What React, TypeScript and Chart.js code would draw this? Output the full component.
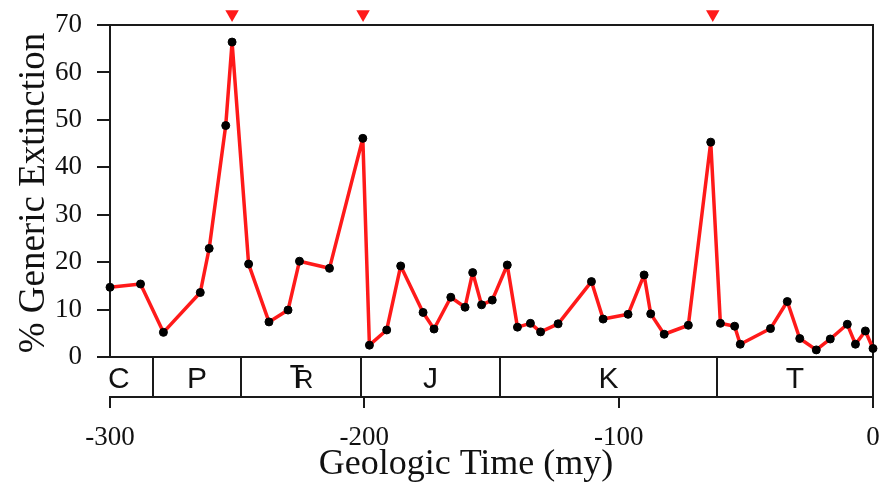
import React, { useEffect, useRef } from "react";
import { Chart, registerables } from "chart.js";

Chart.register(...registerables);

// ---- data ----
const ages = [
  -300, -288, -279, -264.5, -261, -254.5, -252, -245.5, -237.5, -230, -225.5, -213.7,
  -200.6, -198, -191.2, -185.7, -176.9, -172.6, -166, -160.4, -157.4, -153.9, -149.7,
  -143.8, -139.8, -134.7, -130.7, -123.8, -110.7, -106.1, -96.3, -90, -87.4, -82.1,
  -72.6, -63.8, -60, -54.4, -52.2, -40.3, -33.7, -28.8, -22.3, -16.8, -10.1, -6.9, -3, 0,
];
const extinction = [
  14.7, 15.4, 5.2, 13.6, 22.9, 48.8, 66.4, 19.6, 7.4, 9.9, 20.2, 18.7,
  46.1, 2.5, 5.7, 19.2, 9.4, 5.9, 12.6, 10.5, 17.8, 11.0, 12.0,
  19.4, 6.3, 7.1, 5.3, 7.0, 15.9, 8.0, 9.0, 17.3, 9.1, 4.8,
  6.7, 45.3, 7.1, 6.5, 2.7, 6.0, 11.7, 3.9, 1.5, 3.8, 6.9, 2.7, 5.5, 1.8,
];
const massExtinctions = [-252, -200.5, -63];
const markerLevel = 72.3;

const periodNames = ["C", "P", "Tr", "J", "K", "T"];
const periodStarts = [-310, -283, -248.5, -201.5, -146.5, -61.5];
const periodEnds = [-283, -248.5, -201.5, -146.5, -61.5, 0];

const xTicks = [-300, -200, -100, 0];
const yTicks = [0, 10, 20, 30, 40, 50, 60, 70];
const xTitle = "Geologic Time (my)";
const yTitle = "% Generic Extinction";

// ---- styles ----
const SERIF = "'Liberation Serif', 'Times New Roman', serif";
const SANS = "'Liberation Sans', Arial, sans-serif";
const AXIS = "#1a1a1a";
const RED = "#ff1a1a";
const STRIP_DEPTH = 8.43; // period strip height in y units below zero
const MARKER_R = 7.8;

const decorPlugin = {
  id: "decor",
  beforeDatasetsDraw(chart: any) {
    const { ctx, chartArea: ca, scales } = chart;
    const x = scales.x;
    const y = scales.y;
    const y0 = Math.round(y.getPixelForValue(0));
    const yTop = Math.round(y.getPixelForValue(yTicks[yTicks.length - 1]));
    const left = Math.round(ca.left);
    const right = Math.round(ca.right);
    const bottom = Math.round(ca.bottom);
    ctx.save();
    ctx.strokeStyle = AXIS;
    ctx.lineWidth = 2;
    ctx.lineCap = "square";
    ctx.beginPath();
    ctx.moveTo(left, y0);
    ctx.lineTo(left, yTop);
    ctx.lineTo(right, yTop);
    ctx.lineTo(right, bottom);
    ctx.moveTo(left, y0);
    ctx.lineTo(right, y0);
    periodStarts.forEach((s) => {
      if (s > x.min) {
        const px = Math.round(x.getPixelForValue(s));
        ctx.moveTo(px, y0);
        ctx.lineTo(px, bottom);
      }
    });
    ctx.stroke();

    // period labels
    ctx.fillStyle = "#111";
    ctx.textBaseline = "alphabetic";
    const base = y0 + 31;
    periodNames.forEach((name, i) => {
      const cx = x.getPixelForValue((periodStarts[i] + periodEnds[i]) / 2);
      if (name === "Tr") {
        // Triassic symbol: T overlapping R
        ctx.save();
        ctx.font = `33px ${SANS}`;
        ctx.textAlign = "left";
        ctx.translate(cx - 11, base);
        ctx.scale(0.72, 1);
        ctx.fillText("T", 0, 0);
        ctx.restore();
        ctx.font = `25px ${SANS}`;
        ctx.textAlign = "left";
        ctx.fillText("R", cx - 5.5, base);
      } else {
        ctx.font = `30px ${SANS}`;
        ctx.textAlign = "center";
        ctx.fillText(name, cx, base);
      }
    });
    ctx.restore();
  },
  afterDatasetsDraw(chart: any) {
    const { ctx, scales } = chart;
    const x = scales.x;
    const y = scales.y;
    ctx.save();
    ctx.fillStyle = RED;
    massExtinctions.forEach((a) => {
      const px = x.getPixelForValue(a);
      const py = y.getPixelForValue(markerLevel);
      ctx.beginPath();
      ctx.moveTo(px, py + MARKER_R);
      ctx.lineTo(px - 0.866 * MARKER_R, py - 0.5 * MARKER_R);
      ctx.lineTo(px + 0.866 * MARKER_R, py - 0.5 * MARKER_R);
      ctx.closePath();
      ctx.fill();
    });
    ctx.restore();
  },
  afterDraw(chart: any) {
    const { ctx, chartArea: ca, scales } = chart;
    const y = scales.y;
    const y0 = y.getPixelForValue(0);
    const yTop = y.getPixelForValue(yTicks[yTicks.length - 1]);
    ctx.save();
    ctx.fillStyle = "#111";
    ctx.font = `36px ${SERIF}`;
    ctx.textAlign = "center";
    ctx.textBaseline = "alphabetic";
    ctx.fillText(xTitle, ca.left + 356, 474);
    ctx.font = `37px ${SERIF}`;
    ctx.translate(44, (y0 + yTop) / 2 + 2);
    ctx.rotate(-Math.PI / 2);
    ctx.fillText(yTitle, 0, 0);
    ctx.restore();
  },
};

export default function App() {
  const canvasRef = useRef<HTMLCanvasElement | null>(null);

  useEffect(() => {
    const canvas = canvasRef.current;
    if (!canvas) return;
    const chart = new Chart(canvas, {
      type: "line",
      data: {
        datasets: [
          {
            label: "Generic extinction",
            data: ages.map((a, i) => ({ x: a, y: extinction[i] })),
            borderColor: RED,
            borderWidth: 3.5,
            borderJoinStyle: "round",
            pointBackgroundColor: "#000",
            pointBorderColor: "#000",
            pointRadius: 4,
            pointBorderWidth: 1,
            tension: 0,
            clip: false as any,
          },
        ],
      },
      options: {
        responsive: false,
        animation: false,
        devicePixelRatio: 1,
        events: [],
        layout: { padding: { top: 25, right: 18, left: 0, bottom: 0 } },
        plugins: {
          legend: { display: false },
          tooltip: { enabled: false },
          title: { display: false },
        },
        scales: {
          x: {
            type: "linear",
            min: xTicks[0],
            max: xTicks[xTicks.length - 1],
            afterBuildTicks: (s: any) => {
              s.ticks = xTicks.map((v) => ({ value: v }));
            },
            afterFit: (s: any) => {
              s.height = 88;
              s.paddingLeft = 0;
              s.paddingRight = 0;
            },
            grid: {
              display: true,
              drawOnChartArea: false,
              drawTicks: true,
              tickLength: 11,
              color: AXIS,
              lineWidth: 2,
            },
            border: { display: true, color: AXIS, width: 2 },
            ticks: {
              font: { family: SERIF, size: 27 },
              color: "#111",
              padding: 14,
              maxRotation: 0,
              autoSkip: false,
              callback: (v: any) => String(v),
            },
          },
          y: {
            type: "linear",
            min: -STRIP_DEPTH,
            max: yTicks[yTicks.length - 1],
            afterBuildTicks: (s: any) => {
              s.ticks = yTicks.map((v) => ({ value: v }));
            },
            afterFit: (s: any) => {
              s.width = 110;
              s.paddingTop = 0;
              s.paddingBottom = 0;
            },
            grid: {
              display: true,
              drawOnChartArea: false,
              drawTicks: true,
              tickLength: 13,
              color: AXIS,
              lineWidth: 2,
            },
            border: { display: false },
            ticks: {
              font: { family: SERIF, size: 27 },
              color: "#111",
              padding: 15,
              autoSkip: false,
              callback: (v: any) => String(v),
            },
          },
        },
      },
      plugins: [decorPlugin],
    } as any);
    return () => chart.destroy();
  }, []);

  return (
    <div
      style={{
        position: "fixed",
        left: 0,
        top: 0,
        width: 891,
        height: 485,
        background: "#fff",
      }}
    >
      <canvas ref={canvasRef} width={891} height={485} style={{ display: "block" }} />
    </div>
  );
}
